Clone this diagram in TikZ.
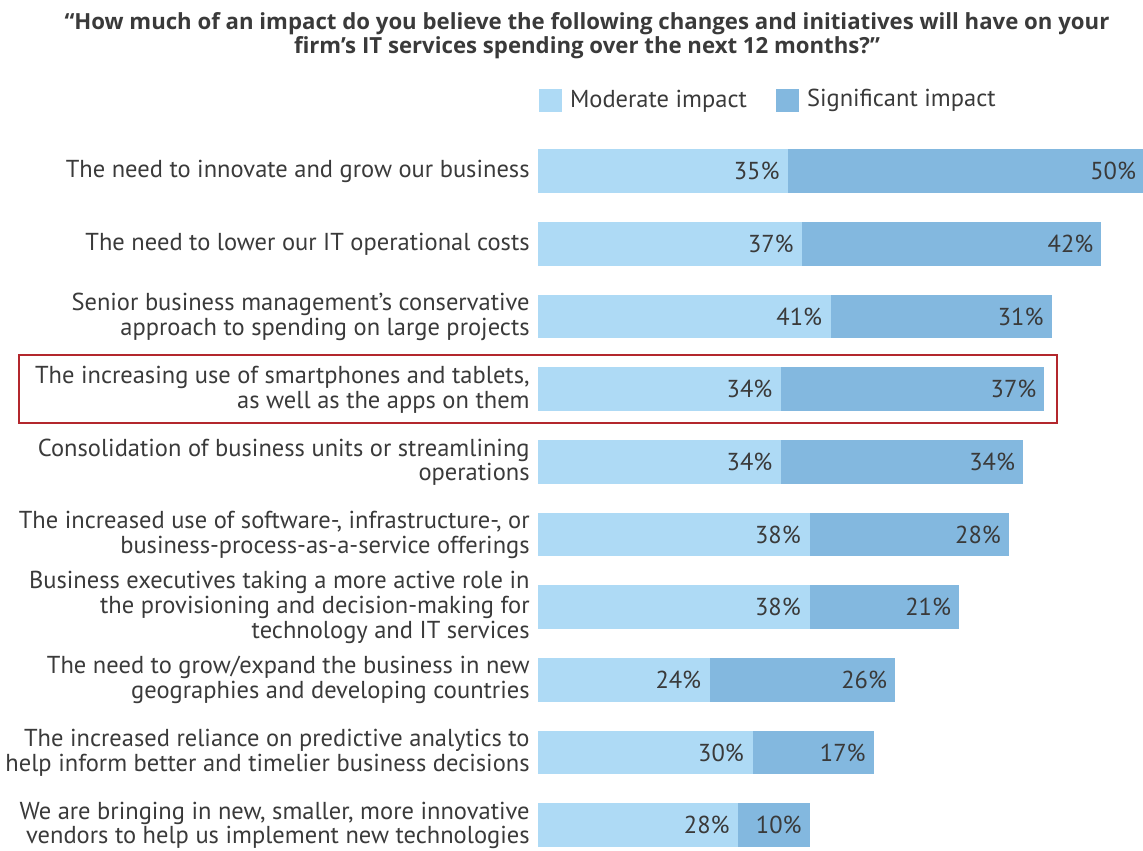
\documentclass[tikz,border=0pt]{standalone}
\usepackage{fontspec}
\setmainfont{PT Sans}
\newfontfamily\titlefont{Open Sans}
\usetikzlibrary{positioning}

\definecolor{modblue}{HTML}{AEDAF5}
\definecolor{sigblue}{HTML}{83B8DF}
\definecolor{txtgray}{HTML}{3A3A3A}
\definecolor{boxred}{HTML}{B3272D}

\newcommand{\pctscale}{3.5575pt}% width of 1% of a bar

\begin{document}
\begin{tikzpicture}[x=0.5pt, y=-0.5pt,
  lbl/.style={anchor=east, align=right, inner sep=0pt, text=txtgray,
    font=\fontsize{12.25}{12.35}\selectfont},
  pct/.style={anchor=east, inner sep=0pt, text=txtgray,
    font=\fontsize{12.25}{12.35}\selectfont},
  keybox/.style={minimum size=11.4pt, inner sep=0pt, anchor=north west},
  barpart/.style={minimum height=21.75pt, inner sep=0pt, anchor=north west},
]
  \useasboundingbox (0,0) rectangle (1143,850);

  % title
  \node[font=\titlefont\bfseries\fontsize{11.1}{9.7}\selectfont, align=center,
        text=txtgray, anchor=north, inner sep=0pt] (title) at (587,12)
    {“How much of an impact do you believe the following changes and initiatives will have on your\\
     firm’s IT services spending over the next 12 months?”};

  % legend
  \node[keybox, fill=modblue] (keymod) at (539,89) {};
  \node[pct, anchor=west, right=3.5pt of keymod] (keymodtxt) {Moderate impact};
  \node[keybox, fill=sigblue] (keysig) at (776,89) {};
  \node[pct, anchor=west, right=3.5pt of keysig] (keysigtxt) {Significant impact};

  % highlighted row
  \draw[boxred, line width=1pt] (19,355) rectangle (1057,422.5);

  % bars
  \foreach \mod/\sig/\txt [count=\i from 0] in {
      35/50/{The need to innovate and grow our business},
      37/42/{The need to lower our IT operational costs},
      41/31/{Senior business management’s conservative\\approach to spending on large projects},
      34/37/{The increasing use of smartphones and tablets,\\as well as the apps on them},
      34/34/{Consolidation of business units or streamlining\\operations},
      38/28/{The increased use of software-, infrastructure-, or\\business-process-as-a-service offerings},
      38/21/{Business executives taking a more active role in\\the provisioning and decision-making for\\technology and IT services},
      24/26/{The need to grow/expand the business in new\\geographies and developing countries},
      30/17/{The increased reliance on predictive analytics to\\help inform better and timelier business decisions},
      28/10/{We are bringing in new, smaller, more innovative\\vendors to help us implement new technologies}}{
    \node[barpart, fill=modblue, minimum width=\mod*\pctscale+1pt] (m\i) at (538,149+72.67*\i) {};
    \node[barpart, fill=sigblue, minimum width=\sig*\pctscale] (s\i) at ([xshift=-1pt]m\i.north east) {};
    \node[pct] (mp\i) at ([xshift=-5pt]m\i.east) {\mod\%};
    \node[pct] (sp\i) at ([xshift=-4pt]s\i.east) {\sig\%};
    \node[lbl] (l\i) at (530,171.5+72.67*\i) {\txt};
  }
\end{tikzpicture}
\end{document}
